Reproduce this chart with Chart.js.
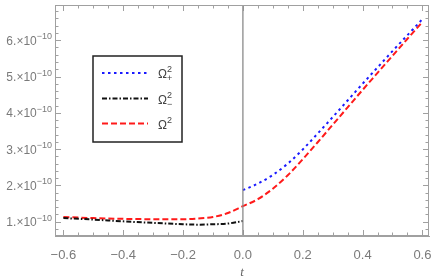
<!DOCTYPE html>
<html>
<head>
<meta charset="utf-8">
<script src="https://cdn.jsdelivr.net/npm/chart.js@4.4.1/dist/chart.umd.min.js"></script>
<style>
  html, body { margin: 0; padding: 0; background: #fff; }
  #wrap { width: 436px; height: 280px; }
</style>
</head>
<body>
<div id="wrap"><canvas id="chart" width="436" height="280"></canvas></div>
<script>
// values are in units of 1e-10
const tNeg = [-0.6, -0.5, -0.4, -0.3, -0.2, -0.15, -0.1, -0.05, 0];
const tPos = [0, 0.05, 0.1, 0.15, 0.2, 0.25, 0.3, 0.35, 0.4, 0.45, 0.5, 0.55, 0.6];
const tAll = tNeg.slice(0, -1).concat(tPos);

const omegaPlus = [1.87, 2.05, 2.29, 2.6, 2.99, 3.43, 3.88, 4.34, 4.8, 5.25, 5.7, 6.14, 6.58];
const omegaMinus = [1.10, 1.06, 1.01, 0.97, 0.93, 0.92, 0.93, 0.95, 1.02];
const omegaSq = [1.13, 1.10, 1.08, 1.07, 1.07, 1.09, 1.13, 1.24, 1.43, 1.62, 1.91, 2.28, 2.72, 3.19, 3.67, 4.15, 4.63, 5.1, 5.57, 6.04, 6.5];

const xTicks = [-0.6, -0.4, -0.2, 0, 0.2, 0.4, 0.6];
const yTicks = [1, 2, 3, 4, 5, 6];
const yExponent = '\u221210';
const legendSubs = ['+', '\u2212', ''];

const frameColor = '#a0a0a0';
const labelColor = '#7a7a7a';

function pts(xs, ys) {
    return xs.map((x, i) => ({ x: x, y: ys[i] }));
}

function fmtX(v) {
    const s = Math.abs(v).toFixed(1);
    return v < 0 ? '\u2212' + s : s;
}

// inward ticks on all four sides, the t=0 line and the y labels
const frameTicks = {
    id: 'frameTicks',
    afterDatasetsDraw(chart) {
        const ctx = chart.ctx;
        const a = chart.chartArea;
        const xs = chart.scales.x, ys = chart.scales.y;
        ctx.save();
        ctx.strokeStyle = frameColor;
        ctx.lineWidth = 1;
        ctx.beginPath();
        for (let v = -0.6; v <= 0.601; v += 0.05) {
            const major = Math.abs(v / 0.2 - Math.round(v / 0.2)) < 1e-6;
            const len = major ? 6 : 3.5;
            const px = Math.round(xs.getPixelForValue(v)) + 0.5;
            ctx.moveTo(px, a.bottom); ctx.lineTo(px, a.bottom - len);
            ctx.moveTo(px, a.top); ctx.lineTo(px, a.top + len);
        }
        for (let v = 0.8; v <= 6.9; v += 0.2) {
            const major = Math.abs(v - Math.round(v)) < 1e-6;
            const len = major ? 6 : 3.5;
            const py = Math.round(ys.getPixelForValue(v)) + 0.5;
            ctx.moveTo(a.left, py); ctx.lineTo(a.left + len, py);
            ctx.moveTo(a.right, py); ctx.lineTo(a.right - len, py);
        }
        ctx.stroke();

        // vertical line at t = 0
        ctx.strokeStyle = '#8a8a8a';
        ctx.lineWidth = 1.3;
        ctx.beginPath();
        const x0 = xs.getPixelForValue(0);
        ctx.moveTo(x0, a.top); ctx.lineTo(x0, a.bottom);
        ctx.stroke();

        // y labels like 6.x10^-10
        ctx.fillStyle = labelColor;
        ctx.textBaseline = 'alphabetic';
        yTicks.forEach(v => {
            const py = ys.getPixelForValue(v);
            ctx.font = '9px "Liberation Sans"';
            const expW = ctx.measureText(yExponent).width;
            ctx.textAlign = 'right';
            ctx.fillText(yExponent, a.left - 3, py - 1);
            ctx.font = '12px "Liberation Sans"';
            ctx.fillText(v + '.\u00d710', a.left - 3 - expW, py + 4.5);
        });
        ctx.restore();
    }
};

// legend box with stacked sub/superscripts
const omegaLegend = {
    id: 'omegaLegend',
    afterDraw(chart) {
        const ctx = chart.ctx;
        ctx.save();
        ctx.fillStyle = '#fff';
        ctx.fillRect(93, 56, 89, 86);
        ctx.strokeStyle = '#222';
        ctx.lineWidth = 1.5;
        ctx.strokeRect(93, 56, 89, 86);
        const rows = [73, 98.5, 123.5];
        chart.data.datasets.forEach((ds, i) => {
            const y = rows[i];
            ctx.strokeStyle = ds.borderColor;
            ctx.lineWidth = ds.borderWidth;
            ctx.setLineDash(ds.borderDash);
            ctx.beginPath();
            ctx.moveTo(102, y); ctx.lineTo(148, y);
            ctx.stroke();
            ctx.setLineDash([]);
            ctx.fillStyle = '#444';
            ctx.textBaseline = 'alphabetic';
            ctx.font = '12px "Liberation Sans"';
            ctx.fillText('\u03a9', 158, y + 5);
            ctx.font = '9px "Liberation Sans"';
            ctx.fillText('2', 167, y - 1);
            if (legendSubs[i]) ctx.fillText(legendSubs[i], 167, y + 8);
        });
        ctx.restore();
    }
};

new Chart(document.getElementById('chart'), {
    type: 'line',
    data: {
        datasets: [
            {
                label: 'plus',
                data: pts(tPos, omegaPlus),
                borderColor: '#1a1aff',
                borderWidth: 2,
                borderDash: [2.5, 3.5],
                pointRadius: 0,
                cubicInterpolationMode: 'monotone',
                fill: false
            },
            {
                label: 'minus',
                data: pts(tNeg, omegaMinus),
                borderColor: '#111',
                borderWidth: 2,
                borderDash: [5, 2, 1.5, 2],
                pointRadius: 0,
                cubicInterpolationMode: 'monotone',
                fill: false
            },
            {
                label: 'sq',
                data: pts(tAll, omegaSq),
                borderColor: '#ff1a1a',
                borderWidth: 2,
                borderDash: [6, 3],
                pointRadius: 0,
                cubicInterpolationMode: 'monotone',
                fill: false
            }
        ]
    },
    options: {
        responsive: false,
        animation: false,
        layout: { padding: { left: 0, top: 5, right: 7, bottom: 0 } },
        plugins: { legend: { display: false }, tooltip: { enabled: false } },
        scales: {
            x: {
                type: 'linear',
                min: -0.628,
                max: 0.622,
                afterBuildTicks: s => { s.ticks = xTicks.map(v => ({ value: v })); },
                afterFit: s => { s.height = 44; },
                grid: { display: false },
                border: { display: true, color: frameColor, width: 1 },
                ticks: {
                    color: labelColor,
                    font: { family: 'Liberation Sans', size: 13 },
                    padding: 4,
                    maxRotation: 0,
                    callback: v => fmtX(v)
                },
                title: {
                    display: true,
                    text: 't',
                    color: '#666',
                    font: { family: 'Liberation Serif', size: 13, style: 'italic' },
                    padding: { top: 4, bottom: 0 }
                }
            },
            y: {
                type: 'linear',
                min: 0.607,
                max: 6.97,
                afterBuildTicks: s => { s.ticks = yTicks.map(v => ({ value: v })); },
                afterFit: s => { s.width = 55; },
                grid: { display: false },
                border: { display: true, color: frameColor, width: 1 },
                ticks: { display: false }
            }
        }
    },
    plugins: [frameTicks, omegaLegend, {
        id: 'frameBox',
        afterDraw(chart) {
            const a = chart.chartArea, ctx = chart.ctx;
            ctx.save();
            ctx.strokeStyle = frameColor;
            ctx.lineWidth = 1;
            ctx.strokeRect(a.left + 0.5, a.top + 0.5, a.right - a.left - 1, a.bottom - a.top - 1);
            ctx.restore();
        }
    }]
});
</script>
</body>
</html>
